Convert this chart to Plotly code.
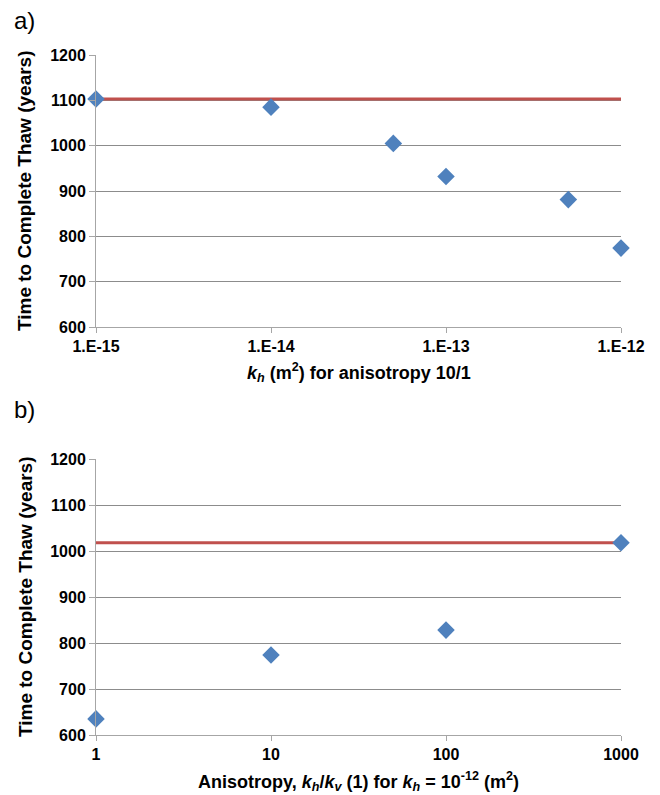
import plotly.graph_objects as go

# Panel a: permeability sweep (anisotropy 10/1)
kh_values = [1e-15, 1e-14, 5e-14, 1e-13, 5e-13, 1e-12]
thaw_a = [1103, 1085, 1005, 932, 881, 774]
ref_a = 1103
ticks_a = [1e-15, 1e-14, 1e-13, 1e-12]
ticklabels_a = ["1.E-15", "1.E-14", "1.E-13", "1.E-12"]

# Panel b: anisotropy sweep (kh = 1e-12)
aniso_values = [1, 10, 100, 1000]
thaw_b = [635, 774, 828, 1018]
ref_b = 1018
ticks_b = [1, 10, 100, 1000]
ticklabels_b = ["1", "10", "100", "1000"]

y_ticks = [600, 700, 800, 900, 1000, 1100, 1200]

FONT = "Liberation Sans, Arial, sans-serif"
BLUE = "#4F81BD"
RED = "#C0504D"
GRID = "#8C8C8C"
AXIS = "#A6A6A6"

fig = go.Figure()

# reference lines first, diamonds on top
fig.add_trace(go.Scatter(x=[kh_values[0], kh_values[-1]], y=[ref_a, ref_a], mode="lines",
                         line=dict(color=RED, width=3), xaxis="x", yaxis="y",
                         showlegend=False, cliponaxis=False))
fig.add_trace(go.Scatter(x=kh_values, y=thaw_a, mode="markers",
                         marker=dict(symbol="diamond", size=13.5, color=BLUE),
                         xaxis="x", yaxis="y", showlegend=False, cliponaxis=False))
fig.add_trace(go.Scatter(x=[aniso_values[0], aniso_values[-1]], y=[ref_b, ref_b], mode="lines",
                         line=dict(color=RED, width=3), xaxis="x2", yaxis="y2",
                         showlegend=False, cliponaxis=False))
fig.add_trace(go.Scatter(x=aniso_values, y=thaw_b, mode="markers",
                         marker=dict(symbol="diamond", size=13.5, color=BLUE),
                         xaxis="x2", yaxis="y2", showlegend=False, cliponaxis=False))

W, H = 660, 795
x0, x1 = 96, 621
top_a, bot_a = 55, 327
top_b, bot_b = 459, 735

def ydom(top, bot):
    return [1 - bot / H, 1 - top / H]

tickfont = dict(family=FONT, size=16, color="black", weight="bold")
xcommon = dict(type="log", showgrid=False, showline=True, linecolor=AXIS, linewidth=1,
               ticks="outside", ticklen=5, tickcolor=AXIS, tickfont=tickfont,
               zeroline=False, automargin=False, domain=[x0 / W, x1 / W])
ycommon = dict(range=[600, 1200], tickvals=y_ticks, showgrid=True, gridcolor=GRID,
               gridwidth=1, showline=True, linecolor=AXIS, linewidth=1,
               ticks="outside", ticklen=6, tickcolor=AXIS, tickfont=tickfont,
               zeroline=False, automargin=False)

fig.update_layout(
    width=W, height=H, margin=dict(l=0, r=0, t=0, b=0),
    paper_bgcolor="white", plot_bgcolor="white",
    xaxis=dict(xcommon, range=[-15.00001, -11.99999], tickvals=ticks_a,
               ticktext=ticklabels_a, anchor="y"),
    yaxis=dict(ycommon, domain=ydom(top_a, bot_a), anchor="x"),
    xaxis2=dict(xcommon, range=[-0.00001, 3.00001], tickvals=ticks_b,
                ticktext=ticklabels_b, anchor="y2"),
    yaxis2=dict(ycommon, domain=ydom(top_b, bot_b), anchor="x2"),
)

ytitle_font = dict(family=FONT, size=19, color="black", weight="bold")
xtitle_font = dict(family=FONT, size=18, color="black", weight="bold")
ytitle = "Time to Complete Thaw (years)"
xc = (x0 + x1) / 2 / W
for top, bot in [(top_a, bot_a), (top_b, bot_b)]:
    fig.add_annotation(text="<b>" + ytitle + "</b>", xref="paper", yref="paper",
                       x=25 / W, y=1 - (top + bot) / 2 / H, textangle=-90,
                       xanchor="center", yanchor="middle",
                       showarrow=False, font=ytitle_font)
fig.add_annotation(text="<b><i>k<sub>h</sub></i> (m<sup>2</sup>) for anisotropy 10/1</b>",
                   xref="paper", yref="paper", x=xc, y=1 - 372 / H,
                   xanchor="center", yanchor="middle",
                   showarrow=False, font=xtitle_font)
fig.add_annotation(text="<b>Anisotropy, <i>k<sub>h</sub></i>/<i>k<sub>v</sub></i> (1) for "
                        "<i>k<sub>h</sub></i> = 10<sup>-12</sup> (m<sup>2</sup>)</b>",
                   xref="paper", yref="paper", x=xc, y=1 - 781 / H,
                   xanchor="center", yanchor="middle",
                   showarrow=False, font=xtitle_font)

label_font = dict(family=FONT, size=24, color="black")
fig.add_annotation(text="a)", xref="paper", yref="paper", x=12 / W, y=1 - 21 / H,
                   xanchor="left", yanchor="middle", showarrow=False, font=label_font)
fig.add_annotation(text="b)", xref="paper", yref="paper", x=12 / W, y=1 - 409 / H,
                   xanchor="left", yanchor="middle", showarrow=False, font=label_font)

fig.write_html("out.html")
